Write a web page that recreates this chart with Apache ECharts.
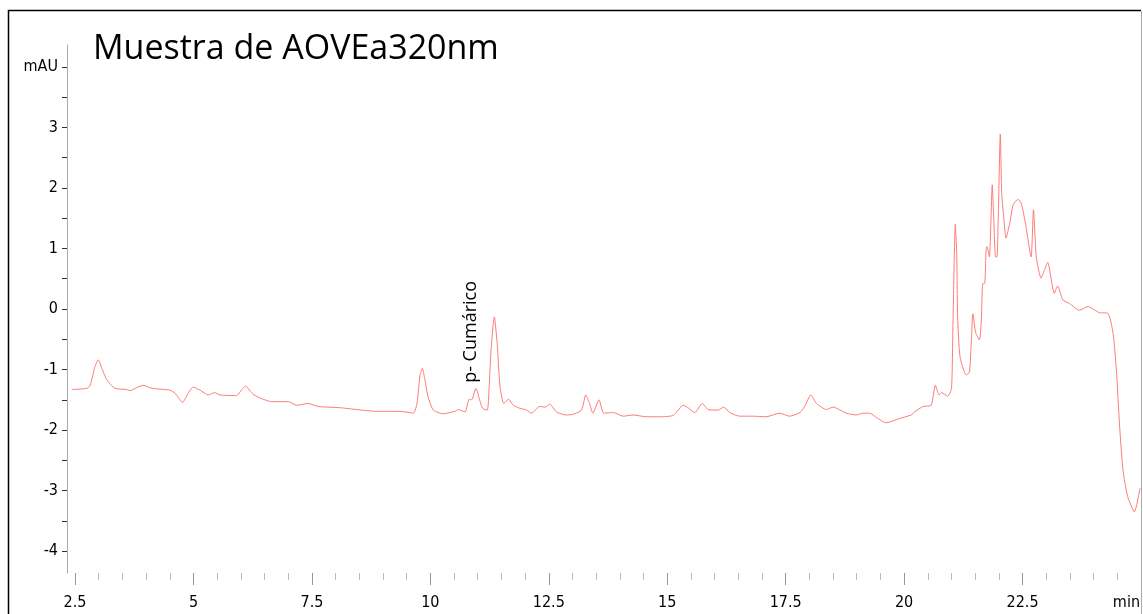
<!DOCTYPE html>
<html>
<head>
<meta charset="utf-8">
<script src="https://cdn.jsdelivr.net/npm/echarts@6/dist/echarts.min.js"></script>
<style>
  html, body { margin: 0; padding: 0; background: #fff; }
  #chart { width: 1143px; height: 614px; }
</style>
</head>
<body>
<div id="chart"></div>
<script>
// retention time (min) and absorbance (mAU)
const times = [
  2.43, 2.75, 2.82, 2.92, 2.99, 3.08, 3.17, 3.34, 3.59, 3.66, 3.80, 3.94, 4.12, 4.50, 4.61, 4.77, 4.88, 4.99,
  5.14, 5.31, 5.45, 5.56, 5.91, 6.02, 6.10, 6.20, 6.30, 6.47, 6.65, 7.00, 7.18, 7.42, 7.63, 8.09, 8.44, 8.86,
  9.36, 9.64, 9.72, 9.78, 9.83, 9.88, 9.95, 10.05, 10.13, 10.27, 10.52, 10.59, 10.73, 10.82, 10.87, 10.96,
  11.04, 11.10, 11.20, 11.24, 11.28, 11.35, 11.41, 11.47, 11.55, 11.65, 11.75, 11.89, 12.03, 12.13, 12.31,
  12.42, 12.52, 12.66, 12.87, 13.01, 13.19, 13.28, 13.36, 13.43, 13.56, 13.66, 13.86, 14.07, 14.28, 14.56,
  14.84, 15.12, 15.23, 15.33, 15.42, 15.58, 15.74, 15.86, 16.07, 16.19, 16.32, 16.53, 16.81, 17.09, 17.37,
  17.58, 17.80, 17.90, 18.03, 18.15, 18.36, 18.50, 18.78, 18.99, 19.13, 19.27, 19.45, 19.62, 19.90, 20.15,
  20.22, 20.40, 20.57, 20.66, 20.74, 20.79, 20.92, 21.00, 21.03, 21.08, 21.11, 21.13, 21.18, 21.31, 21.38,
  21.42, 21.45, 21.51, 21.59, 21.63, 21.66, 21.70, 21.73, 21.75, 21.80, 21.86, 21.89, 21.93, 21.96, 21.99,
  22.03, 22.06, 22.10, 22.15, 22.23, 22.30, 22.40, 22.47, 22.56, 22.68, 22.73, 22.79, 22.89, 22.96, 23.03,
  23.17, 23.24, 23.35, 23.49, 23.70, 23.88, 24.12, 24.30, 24.41, 24.48, 24.55, 24.62, 24.72, 24.86, 24.98
];
const absorbance = [
  -1.33, -1.31, -1.26, -0.95, -0.84, -1.01, -1.17, -1.31, -1.33, -1.35, -1.30, -1.26, -1.31, -1.34, -1.39, -1.54, -1.40, -1.29,
  -1.34, -1.42, -1.38, -1.42, -1.43, -1.33, -1.27, -1.36, -1.43, -1.49, -1.53, -1.53, -1.59, -1.56, -1.61, -1.63, -1.66, -1.69,
  -1.69, -1.72, -1.55, -1.10, -0.98, -1.15, -1.45, -1.66, -1.70, -1.73, -1.69, -1.66, -1.70, -1.49, -1.50, -1.31,
  -1.50, -1.64, -1.67, -1.30, -0.68, -0.13, -0.57, -1.28, -1.56, -1.49, -1.59, -1.64, -1.67, -1.72, -1.61,
  -1.62, -1.57, -1.70, -1.75, -1.74, -1.67, -1.42, -1.56, -1.72, -1.50, -1.72, -1.71, -1.77, -1.75, -1.78,
  -1.78, -1.76, -1.67, -1.59, -1.62, -1.71, -1.56, -1.66, -1.67, -1.62, -1.71, -1.77, -1.77, -1.78, -1.72,
  -1.77, -1.71, -1.61, -1.42, -1.56, -1.66, -1.62, -1.72, -1.75, -1.72, -1.72, -1.81, -1.88, -1.81, -1.75,
  -1.70, -1.61, -1.59, -1.26, -1.42, -1.38, -1.44, -1.31, -0.29, 1.40, 0.92, -0.13, -0.79, -1.09, -1.04,
  -0.51, -0.08, -0.39, -0.51, -0.18, 0.42, 0.42, 0.98, 1.03, 0.86, 2.05, 1.53, 0.86, 0.86, 1.64,
  2.89, 1.91, 1.53, 1.17, 1.42, 1.72, 1.81, 1.75, 1.42, 0.86, 1.64, 0.86, 0.51, 0.64, 0.77,
  0.26, 0.38, 0.15, 0.09, -0.02, 0.04, -0.06, -0.07, -0.40, -1.01, -1.95, -2.66, -3.10, -3.35, -2.96
];

const xMajorTicks = [2.5, 5, 7.5, 10, 12.5, 15, 17.5, 20, 22.5];
const xMinorTicks = [3, 3.5, 4, 4.5, 5.5, 6, 6.5, 7, 8, 8.5, 9, 9.5, 10.5, 11, 11.5, 12, 13, 13.5, 14, 14.5,
  15.5, 16, 16.5, 17, 18, 18.5, 19, 19.5, 20.5, 21, 21.5, 22, 23, 23.5, 24, 24.5];
const yLabels = [-4, -3, -2, -1, 0, 1, 2, 3, 4];
const yTicks = [-4, -3.5, -3, -2.5, -2, -1.5, -1, -0.5, 0, 0.5, 1, 1.5, 2, 2.5, 3, 3.5, 4];

const titleText = 'Muestra de AOVEa320nm';
const peakName = 'p- Cumárico';
const peakAt = [10.86, -1.22];

const narrow = '"Liberation Sans Narrow", "DejaVu Sans Condensed", sans-serif';
const humanist = '"Open Sans", "Noto Sans", sans-serif';

const chart = echarts.init(document.getElementById('chart'));

const trace = times.map((t, i) => [t, absorbance[i]]);

function timeAxis(ticks, len, color, withLabels) {
  return {
    type: 'value',
    position: 'bottom',
    min: 2.33,
    max: 25,
    axisLine: { show: false, onZero: false },
    splitLine: { show: false },
    axisTick: { show: true, customValues: ticks, length: len, lineStyle: { color } },
    axisLabel: withLabels
      ? { customValues: ticks, margin: 22, fontFamily: narrow, fontSize: 16, color: '#000' }
      : { show: false }
  };
}

const mainX = timeAxis(xMajorTicks, 12, '#999', true);
mainX.name = 'min';
mainX.nameLocation = 'end';
mainX.nameGap = -1;
mainX.nameTextStyle = {
  fontFamily: narrow, fontSize: 16, color: '#000',
  align: 'right', verticalAlign: 'top', padding: [22, 0, 0, 0]
};

chart.setOption({
  animation: false,
  backgroundColor: '#fff',
  title: {
    text: titleText,
    left: 88,
    top: 27,
    textStyle: { fontFamily: humanist, fontSize: 34, fontWeight: 'normal', color: '#000' }
  },
  grid: { left: 67, right: 2, top: 45, bottom: 41 },
  xAxis: [mainX, timeAxis(xMinorTicks, 7, '#bbb', false)],
  yAxis: {
    type: 'value',
    min: -4.36,
    max: 4.36,
    axisLine: { show: true, lineStyle: { color: '#aaa', width: 1 } },
    splitLine: { show: false },
    axisTick: { show: true, customValues: yTicks, length: 5, lineStyle: { color: '#333' } },
    axisLabel: {
      customValues: yLabels,
      margin: 9,
      fontFamily: narrow,
      fontSize: 16,
      color: '#000',
      formatter: v => (v === 4 ? 'mAU' : String(v))
    }
  },
  series: [{
    type: 'line',
    data: trace,
    showSymbol: false,
    smooth: 0.2,
    lineStyle: { color: '#ff7a7a', width: 1 }
  }]
});

// frame and peak annotation
const p = chart.convertToPixel({ xAxisIndex: 0, yAxisIndex: 0 }, peakAt);
chart.setOption({
  graphic: [
    { type: 'polyline', shape: { points: [[8.5, 614], [8.5, 10.5], [1141, 10.5]] }, style: { stroke: '#000', lineWidth: 1.5, fill: null } },
    { type: 'line', shape: { x1: 1141.5, y1: 11, x2: 1141.5, y2: 614 }, style: { stroke: '#aaa', lineWidth: 1 } },
    {
      type: 'text',
      x: p[0],
      y: p[1],
      rotation: Math.PI / 2,
      style: { text: peakName, fontFamily: humanist, fontSize: 18, fill: '#000', align: 'left', verticalAlign: 'middle' }
    }
  ]
});
</script>
</body>
</html>
